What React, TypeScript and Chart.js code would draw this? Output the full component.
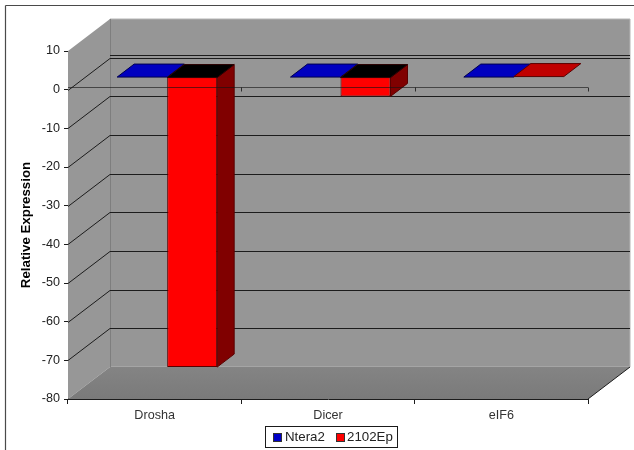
import React, { useEffect, useRef } from "react";
import { Chart, registerables } from "chart.js";

Chart.register(...registerables);

const categories = ["Drosha", "Dicer", "eIF6"];
const ntera2 = [0, 0, 0];
const ep2102 = [-75, -5, 0.1];
const seriesNames = ["Ntera2", "2102Ep"];
const yMin = -80;
const yMax = 10;
const yStep = 10;

const FONT = "'Liberation Sans', Arial, sans-serif";
// Projection of the box: full depth of the plot, and the depth of one bar row.
const WALL = { x: 42, y: -32 };
const ROW_SHIFT = { x: 12.5, y: -12.6 };
const BAR_DEPTH = { x: 17, y: -13 };
const AXIS_CROSS_SHIFT = -3; // category axis sits just above the zero gridline

const faceColors = [
  { front: "#0000c8", top: "#0000c0", side: "#000080", edge: "#000050" },
  { front: "#ff0000", top: "#c00000", side: "#800000", edge: "#5a0000" },
];

function quad(ctx, pts, fill, stroke, lw = 1) {
  ctx.beginPath();
  pts.forEach(([x, y], i) => (i ? ctx.lineTo(x, y) : ctx.moveTo(x, y)));
  ctx.closePath();
  if (fill) {
    ctx.fillStyle = fill;
    ctx.fill();
  }
  if (stroke) {
    ctx.strokeStyle = stroke;
    ctx.lineWidth = lw;
    ctx.stroke();
  }
}

function line(ctx, x1, y1, x2, y2, color, lw = 1) {
  ctx.beginPath();
  ctx.moveTo(x1, y1);
  ctx.lineTo(x2, y2);
  ctx.strokeStyle = color;
  ctx.lineWidth = lw;
  ctx.stroke();
}

// Grey walls, floor and gridlines of the 3D box, plus the page frame.
const boxPlugin = {
  id: "box",
  beforeDatasetsDraw(chart) {
    const { ctx, chartArea: a, scales } = chart;
    const y = scales.y;
    const dx = WALL.x;
    const dy = WALL.y;
    ctx.save();
    line(ctx, 5.5, 5.5, 634, 5.5, "#4a4a4a", 1.2);
    line(ctx, 5.5, 5.5, 5.5, 450, "#4a4a4a", 1.2);

    quad(ctx, [[a.left + dx, a.top + dy], [a.right + dx, a.top + dy], [a.right + dx, a.bottom + dy], [a.left + dx, a.bottom + dy]], "#969696", "#b4b4b4");
    quad(ctx, [[a.left, a.top], [a.left + dx, a.top + dy], [a.left + dx, a.bottom + dy], [a.left, a.bottom]], "#979797", null);
    const floorFill = ctx.createLinearGradient(0, a.bottom + dy, 0, a.bottom);
    floorFill.addColorStop(0, "#848484");
    floorFill.addColorStop(1, "#7a7a7a");
    quad(ctx, [[a.left, a.bottom], [a.right, a.bottom], [a.right + dx, a.bottom + dy], [a.left + dx, a.bottom + dy]], floorFill, null);
    line(ctx, a.left + dx + 0.5, a.top + dy, a.left + dx + 0.5, a.bottom + dy, "#7e7e7e");
    line(ctx, a.right, a.bottom, a.right + dx, a.bottom + dy, "#1c1c1c");

    for (let v = yMin + yStep; v < yMax; v += yStep) {
      const py = Math.round(y.getPixelForValue(v));
      line(ctx, a.left, py + 0.5, a.left + dx, py + dy + 0.5, "#1c1c1c");
      line(ctx, a.left + dx, py + dy + 0.5, a.right + dx, py + dy + 0.5, "#1c1c1c");
    }
    const zero = Math.round(y.getPixelForValue(0)) + AXIS_CROSS_SHIFT;
    line(ctx, a.left + dx, zero + dy + 0.5, a.right + dx, zero + dy + 0.5, "#1c1c1c");
    ctx.restore();

    // Bars sit part-way into the box.
    ctx.save();
    ctx.translate(ROW_SHIFT.x, ROW_SHIFT.y);
  },
  afterDatasetsDraw(chart) {
    const { ctx, chartArea: a, scales } = chart;
    [0, 1].forEach((di) => {
      const c = faceColors[di];
      chart.getDatasetMeta(di).data.forEach((el) => {
        const p = el.getProps(["x", "y", "base", "width"], true);
        const l = p.x - p.width / 2;
        const r = p.x + p.width / 2;
        const top = Math.min(p.y, p.base);
        const bottom = Math.max(p.y, p.base);
        const dx = BAR_DEPTH.x;
        const dy = BAR_DEPTH.y;
        if (bottom - top > 1) {
          quad(ctx, [[r, top], [r + dx, top + dy], [r + dx, bottom + dy], [r, bottom]], c.side, c.edge);
        }
        const hollow = p.y > p.base + 0.5;
        quad(ctx, [[l, top], [r, top], [r + dx, top + dy], [l + dx, top + dy]], hollow ? "#000000" : c.top, hollow ? "#2a0000" : c.edge);
      });
    });
    ctx.restore();

    // Category axis line runs across the front of the bars.
    const zero = Math.round(scales.y.getPixelForValue(0)) + AXIS_CROSS_SHIFT + 0.5;
    ctx.save();
    line(ctx, a.left, zero, a.right, zero, "rgba(20,20,20,0.62)");
    scales.x.getTicks().forEach((_, i) => {
      const left = scales.x.getPixelForValue(i) - (a.width / categories.length) / 2;
      const tx = Math.round(left + (a.width / categories.length)) + 0.5;
      line(ctx, tx, zero, tx, zero + 4, "rgba(20,20,20,0.8)");
    });
    ctx.restore();

    drawLegend(chart);
  },
};

// Boxed legend centred under the plot.
function drawLegend(chart) {
  const { ctx } = chart;
  ctx.save();
  ctx.fillStyle = "#ffffff";
  ctx.fillRect(265.5, 426.5, 132, 21);
  ctx.strokeStyle = "#1a1a1a";
  ctx.lineWidth = 1;
  ctx.strokeRect(265.5, 426.5, 132, 21);
  ctx.font = `13.3px ${FONT}`;
  ctx.textBaseline = "middle";
  const swatchX = [273, 336];
  const labelX = [285, 347];
  seriesNames.forEach((name, i) => {
    ctx.fillStyle = faceColors[i].front;
    ctx.fillRect(swatchX[i] + 0.5, 433.5, 8, 8);
    ctx.strokeStyle = "#333333";
    ctx.strokeRect(swatchX[i] + 0.5, 433.5, 8, 8);
    ctx.fillStyle = "#222222";
    ctx.textAlign = "left";
    ctx.fillText(name, labelX[i], 437.5);
  });
  ctx.restore();
}

export default function App() {
  const ref = useRef<HTMLCanvasElement | null>(null);
  useEffect(() => {
    if (!ref.current) return;
    const chart = new Chart(ref.current, {
      type: "bar",
      data: {
        labels: categories,
        datasets: [
          {
            label: seriesNames[0],
            data: ntera2,
            backgroundColor: faceColors[0].front,
            borderColor: faceColors[0].edge,
            borderWidth: 0,
            clip: false,
          },
          {
            label: seriesNames[1],
            data: ep2102,
            backgroundColor: faceColors[1].front,
            borderColor: faceColors[1].edge,
            borderWidth: 1,
            clip: false,
          },
        ],
      },
      options: {
        responsive: false,
        animation: false,
        events: [],
        layout: { padding: { left: 0, right: 46, top: 51, bottom: 0 } },
        datasets: { bar: { barPercentage: 1, categoryPercentage: 0.577 } },
        plugins: { legend: { display: false }, tooltip: { enabled: false } },
        scales: {
          x: {
            type: "category",
            offset: true,
            afterFit: (s) => {
              s.height = 51;
            },
            border: { color: "#1c1c1c", width: 1 },
            grid: {
              offset: true,
              drawOnChartArea: false,
              drawTicks: true,
              tickLength: 5,
              color: "#1c1c1c",
            },
            ticks: { color: "#333333", padding: 4, font: { family: FONT, size: 12.6 }, maxRotation: 0 },
          },
          y: {
            type: "linear",
            min: yMin,
            max: yMax,
            afterFit: (s) => {
              s.width = 68;
            },
            border: { color: "#1c1c1c", width: 1 },
            grid: { drawOnChartArea: false, drawTicks: true, tickLength: 4, color: "#1c1c1c" },
            ticks: { stepSize: yStep, color: "#222222", padding: 4, font: { family: FONT, size: 12.6 } },
            title: {
              display: true,
              text: "Relative Expression",
              color: "#000000",
              font: { family: FONT, size: 13.3, weight: "bold" },
              padding: { top: 18, bottom: 0 },
            },
          },
        },
      },
      plugins: [boxPlugin],
    });
    return () => chart.destroy();
  }, []);
  return (
    <div style={{ position: "fixed", left: 0, top: 0, width: 634, height: 450, background: "#ffffff" }}>
      <canvas ref={ref} width={634} height={450} style={{ display: "block" }} />
    </div>
  );
}
